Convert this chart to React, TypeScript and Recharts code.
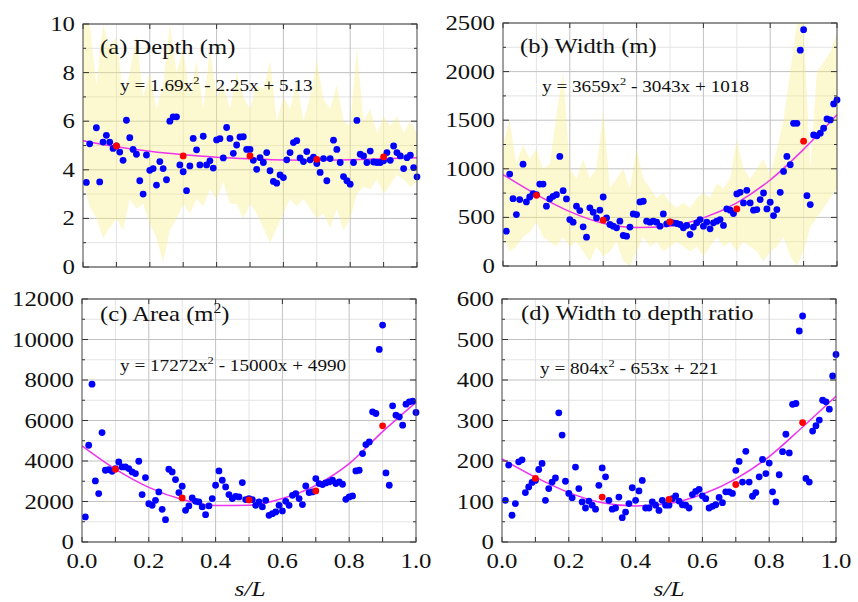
import React from 'react';
import { ComposedChart, Area, Line, Scatter, XAxis, YAxis, CartesianGrid } from 'recharts';

const SERIF = '"Liberation Serif", "Times New Roman", serif';

// sample positions along the reach
const sL = [
  0.01, 0.02, 0.03, 0.04, 0.05, 0.06, 0.07, 0.08, 0.09, 0.1,
  0.11, 0.12, 0.13, 0.14, 0.15, 0.16, 0.17, 0.18, 0.19, 0.2,
  0.21, 0.22, 0.23, 0.24, 0.25, 0.26, 0.27, 0.28, 0.29, 0.3,
  0.31, 0.32, 0.33, 0.34, 0.35, 0.36, 0.37, 0.38, 0.39, 0.4,
  0.41, 0.42, 0.43, 0.44, 0.45, 0.46, 0.47, 0.48, 0.49, 0.5,
  0.51, 0.52, 0.53, 0.54, 0.55, 0.56, 0.57, 0.58, 0.59, 0.6,
  0.61, 0.62, 0.63, 0.64, 0.65, 0.66, 0.67, 0.68, 0.69, 0.7,
  0.71, 0.72, 0.73, 0.74, 0.75, 0.76, 0.77, 0.78, 0.79, 0.8,
  0.81, 0.82, 0.83, 0.84, 0.85, 0.86, 0.87, 0.88, 0.89, 0.9,
  0.91, 0.92, 0.93, 0.94, 0.95, 0.96, 0.97, 0.98, 0.99, 1.0,
];
const meanX = [0.1, 0.3, 0.5, 0.7, 0.9];
const fitX = [0, 0.1, 0.2, 0.3, 0.4, 0.5, 0.6, 0.7, 0.8, 0.9, 1.0];
const xTicks = [0, 0.1, 0.2, 0.3, 0.4, 0.5, 0.6, 0.7, 0.8, 0.9, 1.0];
const xMajor = [0.2, 0.4, 0.6, 0.8];
const xMinor = [0.1, 0.3, 0.5, 0.7, 0.9];

// (a) depth
const depth = [
  3.48, 5.07, null, 5.73, 3.5, 5.14, 5.42, 5.14, 4.88, 4.98,
  4.73, 4.39, 6.04, 5.32, 4.84, 4.64, 3.55, 3.0, 4.61, 3.98,
  4.05, 3.37, 4.34, 4.05, 3.59, 6.0, 6.18, 6.18, 4.2, 3.92,
  3.14, 4.16, 5.29, 4.82, 4.2, 5.38, 4.2, 4.37, 4.07, 5.23,
  5.28, 4.49, 5.74, 5.29, 4.68, 5.02, 5.35, 5.36, 4.84, 4.84,
  4.39, 4.02, 4.5, 4.3, 4.71, 3.96, 3.52, 3.45, 3.79, 3.68,
  4.41, 4.71, 5.12, 5.2, 4.49, 4.34, 4.75, 4.41, 4.52, 4.26,
  3.89, 4.46, 3.55, 4.46, 5.22, 4.84, 4.3, 3.72, 3.55, 3.41,
  4.3, 6.03, 4.64, 4.57, 4.3, 4.77, 4.32, 4.3, 4.3, 4.37,
  4.71, 4.39, 4.98, 4.71, 4.57, 4.05, 4.5, 4.6, 4.09, 3.71,
];
const depthMean = [4.98, 4.57, 4.57, 4.43, 4.53];
const depthFit = [5.2, 4.95, 4.76, 4.62, 4.52, 4.45, 4.4, 4.39, 4.41, 4.45, 4.5];
const depthLo = [
  3.5, 2.5, 2.0, 1.2, 1.6, 2.0, 1.5, 2.8, 2.4, 2.6, 1.8, 1.2, 0.2, 1.5, 2.0, 2.6, 2.2,
  2.8, 2.5, 3.2, 2.8, 3.5, 2.6, 2.6, 2.0, 2.6, 2.2, 1.6, 1.0, 1.6, 2.2, 2.8, 2.5, 2.8,
  2.4, 2.0, 2.2, 1.6, 2.4, 1.5, 2.0, 3.0, 3.3, 3.2, 3.6, 3.0, 3.4, 3.8, 3.6, 3.3, 3.5,
];
const depthHi = [
  10, 10, 7.5, 10, 9, 9.5, 7, 8, 9.5, 7, 8, 6.5, 7.5, 10, 8, 9, 7,
  8.5, 6.5, 9, 7, 7.5, 6.5, 8, 7, 6.5, 7.5, 7.3, 8.5, 6, 7, 6.5, 7.6, 6,
  7, 8.5, 6.9, 6.5, 7.5, 6, 5.8, 9, 6, 6.5, 5.5, 6.2, 5.8, 6.2, 5.5, 6, 5.5,
];

// (b) width
const width = [
  358, 946, 693, 529, 683, 1048, 659, 710, 744, 734,
  843, 843, 615, 690, 717, 734, 1127, 775, 690, 478,
  451, 615, 570, 403, 297, 598, 553, 495, 574, 710,
  495, 427, 410, 393, 461, 314, 307, 400, 536, 529,
  659, 666, 461, 451, 461, 451, 410, 536, 434, 451,
  444, 437, 427, 393, 417, 324, 400, 444, 478, 410,
  451, 382, 444, 461, 478, 417, 587, 574, 540, 741,
  758, 649, 779, 649, 574, 581, 683, 751, 587, 656,
  519, 581, 758, 973, 1127, 1042, 1468, 1468, 2220, 2431,
  724, 632, 1349, 1339, 1366, 1417, 1513, 1503, 1667, 1708,
];
const widthMean = [727, 471, 454, 587, 1284];
const widthFit = [940, 735, 560, 440, 395, 410, 495, 650, 885, 1200, 1555];
const widthLo = [
  300, 150, 200, 300, 350, 450, 300, 250, 200, 300, 200, 250, 150, 50, 200, 100, 150,
  250, 50, 0, 150, 300, 200, 250, 150, 200, 250, 200, 150, 200, 100, 200, 300, 200,
  250, 150, 250, 200, 150, 50, 150, 200, 300, 100, 0, 150, 400, 500, 600, 700, 800,
];
const widthHi = [
  1250, 1500, 1050, 1250, 1100, 1200, 1000, 1050, 1550, 2000, 1000, 900, 1100, 900, 1000, 1600, 800,
  900, 1000, 800, 1200, 900, 800, 700, 750, 650, 600, 650, 600, 700, 750, 700, 850, 800,
  900, 1300, 1000, 900, 1000, 1100, 950, 1200, 1500, 2000, 2500, 2500, 1000, 2000, 2100, 2200, 2400,
];

// (c) area
const area = [
  1236, 4779, 7795, 3016, 2390, 5405, 3543, 3576, 3494, 3626,
  3955, 3708, 3708, 3626, 3461, 3378, 3988, 2340, 3181, 1895,
  1813, 2060, 2472, 1615, 1104, 3593, 3461, 3082, 2439, 2752,
  1566, 1780, 2175, 2011, 1978, 1730, 1351, 1780, 2142, 2802,
  3510, 3049, 2719, 2340, 2142, 2258, 2225, 2933, 2093, 2142,
  2093, 1813, 1978, 1730, 2060, 1318, 1401, 1483, 1813, 1533,
  2011, 1813, 2307, 2390, 2142, 1846, 2769, 2439, 2472, 3131,
  2884, 2835, 2917, 2967, 3049, 2884, 2967, 2851, 2109, 2225,
  2274, 3510, 3543, 4367, 4812, 4944, 6427, 6345, 9509, 10712,
  3411, 2802, 6724, 6262, 6180, 5768, 6806, 6922, 6955, 6394,
];
const areaMean = [3593, 2175, 2080, 2521, 5735];
const areaFit = [4750, 3600, 2700, 2100, 1800, 1820, 2150, 2800, 3870, 5450, 6900];

// (d) width to depth ratio
const ratio = [
  103, 190, 66, 95, 198, 203, 122, 136, 147, 152,
  179, 194, 103, 132, 148, 158, 319, 264, 150, 120,
  109, 185, 132, 99, 84, 101, 91, 81, 140, 183,
  161, 103, 81, 84, 111, 60, 74, 95, 134, 103,
  126, 152, 84, 84, 99, 91, 78, 103, 91, 91,
  107, 114, 101, 92, 91, 84, 117, 125, 130, 114,
  107, 84, 88, 92, 110, 97, 124, 124, 120, 177,
  199, 148, 224, 148, 113, 122, 161, 204, 169, 195,
  124, 99, 166, 223, 266, 220, 340, 342, 521, 558,
  157, 148, 274, 287, 301, 350, 346, 328, 410, 463,
];
const ratioMean = [157, 111, 105, 142, 295];
const ratioFit = [205, 160, 122, 97, 89, 95, 118, 156, 211, 284, 360];

const PW = 334;
const PH = 243;
const ML = 70;
const MT = 12;
const MR = 26;

const blueDot = (p: any) => <circle cx={p.cx} cy={p.cy} r={3.4} fill="#0000ff" />;
const redDot = (p: any) => <circle cx={p.cx} cy={p.cy} r={3.4} fill="#ff0000" />;

const makeYTick = (major: number[]) => (props: any) => {
  const { x, y, payload } = props;
  const isMajor = major.includes(payload.value);
  const len = isMajor ? 6 : 3;
  return (
    <g>
      <line x1={x} x2={x + len} y1={y} y2={y} stroke="#333" />
      <line x1={x + PW} x2={x + PW - len} y1={y} y2={y} stroke="#333" />
      {isMajor && (
        <text
          transform={`translate(${x - 8},${y + 7}) scale(1.18,1)`}
          textAnchor="end"
          fontFamily={SERIF}
          fontSize={21}
          fill="#111"
        >
          {payload.value}
        </text>
      )}
    </g>
  );
};

const makeXTick = (labels: boolean) => (props: any) => {
  const { x, y, payload } = props;
  const v = payload.value as number;
  const major = Math.round(v * 10) % 2 === 0;
  return (
    <g>
      <line x1={x} x2={x} y1={y} y2={y - 5} stroke="#333" />
      {major && <line x1={x} x2={x} y1={y - PH} y2={y - PH + 5} stroke="#333" />}
      {labels && major && (
        <text
          transform={`translate(${x},${y + 26}) scale(1.18,1)`}
          textAnchor="middle"
          fontFamily={SERIF}
          fontSize={21}
          fill="#111"
        >
          {v.toFixed(1)}
        </text>
      )}
    </g>
  );
};

interface PanelProps {
  left: number;
  top: number;
  yMax: number;
  yTicks: number[];
  yMinor: number[];
  values: (number | null)[];
  means: number[];
  fit: number[];
  lo?: number[];
  hi?: number[];
  xLabels?: boolean;
}

function Panel({ left, top, yMax, yTicks, yMinor, values, means, fit, lo, hi, xLabels = false }: PanelProps) {
  const pts = sL.map((x, i) => ({ x, y: values[i] })).filter((d) => d.y != null);
  const red = meanX.map((x, i) => ({ x, y: means[i] }));
  const rows =
    lo && hi
      ? lo.map((l, i) => ({
          x: (i * 2) / 100,
          band: [l, hi[i]],
          fit: i % 5 === 0 ? fit[i / 5] : null,
        }))
      : fitX.map((x, i) => ({ x, fit: fit[i] }));
  const axisH = xLabels ? 40 : 20;
  const allY = [...yTicks, ...yMinor].sort((a, b) => a - b);

  return (
    <div style={{ position: 'absolute', left: left - ML, top: top - MT }}>
      <ComposedChart
        width={ML + PW + MR}
        height={MT + PH + axisH}
        data={rows}
        margin={{ top: MT, right: MR, left: 0, bottom: 0 }}
      >
        <CartesianGrid stroke="#e4e4e4" horizontalValues={yMinor} verticalValues={xMinor} />
        <CartesianGrid stroke="#c2c2c2" horizontalValues={yTicks} verticalValues={xMajor} />
        <XAxis
          dataKey="x"
          type="number"
          domain={[0, 1]}
          ticks={xTicks}
          interval={0}
          axisLine={false}
          tickLine={false}
          tickSize={0}
          tickMargin={0}
          height={axisH}
          tick={makeXTick(xLabels)}
        />
        <YAxis
          type="number"
          domain={[0, yMax]}
          ticks={allY}
          interval={0}
          allowDataOverflow
          axisLine={false}
          tickLine={false}
          tickSize={0}
          tickMargin={0}
          width={ML}
          tick={makeYTick(yTicks)}
        />
        {lo && hi && (
          <Area
            dataKey="band"
            type="linear"
            stroke="none"
            fill="#f6ec7a"
            fillOpacity={0.36}
            isAnimationActive={false}
          />
        )}
        <Scatter data={pts} dataKey="y" shape={blueDot} isAnimationActive={false} />
        <Line
          dataKey="fit"
          type="monotone"
          stroke="#ee33ee"
          strokeWidth={1.5}
          dot={false}
          connectNulls
          isAnimationActive={false}
        />
        <Scatter data={red} dataKey="y" shape={redDot} isAnimationActive={false} />
      </ComposedChart>
    </div>
  );
}

const txt = { fontFamily: SERIF, fill: '#111' } as const;

export default function App() {
  return (
    <div style={{ position: 'absolute', left: 0, top: 0, width: 858, height: 602, background: '#fff' }}>
      <Panel left={83} top={24} yMax={10} yTicks={[0, 2, 4, 6, 8, 10]} yMinor={[1, 3, 5, 7, 9]}
        values={depth} means={depthMean} fit={depthFit} lo={depthLo} hi={depthHi} />
      <Panel left={503} top={23} yMax={2500} yTicks={[0, 500, 1000, 1500, 2000, 2500]}
        yMinor={[250, 750, 1250, 1750, 2250]}
        values={width} means={widthMean} fit={widthFit} lo={widthLo} hi={widthHi} />
      <Panel left={82} top={299} yMax={12000} yTicks={[0, 2000, 4000, 6000, 8000, 10000, 12000]}
        yMinor={[1000, 3000, 5000, 7000, 9000, 11000]}
        values={area} means={areaMean} fit={areaFit} xLabels />
      <Panel left={502} top={299} yMax={600} yTicks={[0, 100, 200, 300, 400, 500, 600]}
        yMinor={[50, 150, 250, 350, 450, 550]}
        values={ratio} means={ratioMean} fit={ratioFit} xLabels />

      <svg width={858} height={602} style={{ position: 'absolute', left: 0, top: 0, pointerEvents: 'none' }}>
        <rect x={83} y={24} width={PW} height={PH} fill="none" stroke="#444" />
        <rect x={503} y={23} width={PW} height={PH} fill="none" stroke="#444" />
        <rect x={82} y={299} width={PW} height={PH} fill="none" stroke="#444" />
        <rect x={502} y={299} width={PW} height={PH} fill="none" stroke="#444" />

        <text {...txt} fontSize={22} transform="translate(100,54) scale(1.12,1)">(a) Depth (m)</text>
        <text {...txt} fontSize={17} transform="translate(120,91) scale(1.13,1)">
          y = 1.69x<tspan dy={-7} fontSize={11}>2</tspan><tspan dy={7}> - 2.25x + 5.13</tspan>
        </text>

        <text {...txt} fontSize={22} transform="translate(520,53) scale(1.12,1)">(b) Width (m)</text>
        <text {...txt} fontSize={17} transform="translate(542,92) scale(1.13,1)">
          y = 3659x<tspan dy={-7} fontSize={11}>2</tspan><tspan dy={7}> - 3043x + 1018</tspan>
        </text>

        <text {...txt} fontSize={22} transform="translate(100,321) scale(1.12,1)">
          (c) Area (m<tspan dy={-8} fontSize={14}>2</tspan><tspan dy={8}>)</tspan>
        </text>
        <text {...txt} fontSize={17} transform="translate(120,371) scale(1.13,1)">
          y = 17272x<tspan dy={-7} fontSize={11}>2</tspan><tspan dy={7}> - 15000x + 4990</tspan>
        </text>

        <text {...txt} fontSize={22} transform="translate(521,320) scale(1.12,1)">(d) Width to depth ratio</text>
        <text {...txt} fontSize={17} transform="translate(540,374) scale(1.13,1)">
          y = 804x<tspan dy={-7} fontSize={11}>2</tspan><tspan dy={7}> - 653x + 221</tspan>
        </text>

        <text {...txt} fontSize={22} fontStyle="italic" textAnchor="middle" transform="translate(250,596) scale(1.15,1)">s/L</text>
        <text {...txt} fontSize={22} fontStyle="italic" textAnchor="middle" transform="translate(669,596) scale(1.15,1)">s/L</text>
      </svg>
    </div>
  );
}
